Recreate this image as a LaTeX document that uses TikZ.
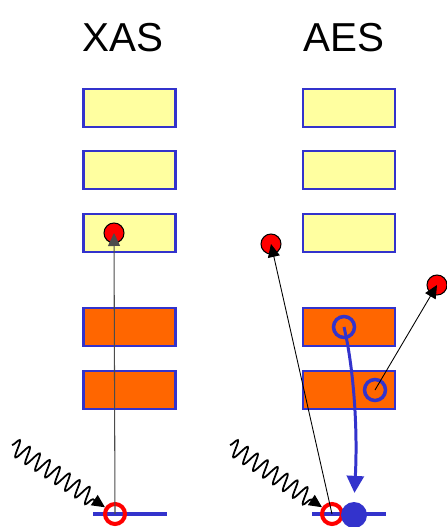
\documentclass[tikz,border=0pt]{standalone}
\usepackage{fontspec}
\setmainfont{Liberation Sans}
\usetikzlibrary{arrows.meta,decorations.pathmorphing}
\definecolor{boxblue}{RGB}{51,51,204}
\definecolor{shellyellow}{RGB}{255,255,160}
\definecolor{shellorange}{RGB}{255,102,0}
\tikzset{
  tip/.style={-{Triangle[length=0.26cm,width=0.24cm]}}
}
\begin{document}
\begin{tikzpicture}[x=0.02cm,y=-0.02cm]
      \useasboundingbox (0,0) rectangle (446,527);

      \node[anchor=base,font=\fontsize{23}{28}\selectfont] (xas) at (123,52) {XAS};
      \node[anchor=base,font=\fontsize{23}{28}\selectfont] (aes) at (344,52) {AES};

      \begin{scope}[every node/.style={rectangle,draw=boxblue,line width=1.5pt,
          minimum width=1.84cm,minimum height=0.76cm}]
        \node[fill=shellyellow] (xy1) at (129.5,108) {};
        \node[fill=shellyellow] (xy2) at (129.5,170) {};
        \node[fill=shellyellow] (xy3) at (129.5,233) {};
        \node[fill=shellorange] (xo1) at (129.5,327) {};
        \node[fill=shellorange] (xo2) at (129.5,390) {};
        \node[fill=shellyellow] (ay1) at (349,108) {};
        \node[fill=shellyellow] (ay2) at (349,170) {};
        \node[fill=shellyellow] (ay3) at (349,233) {};
        \node[fill=shellorange] (ao1) at (349,327) {};
        \node[fill=shellorange] (ao2) at (349,390) {};
      \end{scope}

      % levels at the bottom
      \coordinate (xl1) at (93,514);
      \coordinate (xl2) at (167,514);
      \coordinate (al1) at (312,514);
      \coordinate (al2) at (386,514);
      \draw[boxblue,line width=1.8pt] (xl1) -- (xl2);
      \draw[boxblue,line width=1.8pt] (al1) -- (al2);

      \begin{scope}[every node/.style={circle,inner sep=0pt}]
        \node[fill=red,draw=black,line width=0.6pt,minimum size=0.4cm] (xe) at (114,233) {};
        \node[fill=red,draw=black,line width=0.6pt,minimum size=0.4cm] (ae1) at (271,244) {};
        \node[fill=red,draw=black,line width=0.6pt,minimum size=0.4cm] (ae2) at (437,285) {};
        \node[draw=red,line width=2.3pt,minimum size=0.4cm] (xh) at (115,514) {};
        \node[draw=red,line width=2.3pt,minimum size=0.4cm] (ah) at (332,514) {};
        \node[fill=boxblue,minimum size=0.52cm] (af) at (354,515) {};
        \node[draw=boxblue,line width=2pt,minimum size=0.42cm] (ar1) at (344,327) {};
        \node[draw=boxblue,line width=2pt,minimum size=0.42cm] (ar2) at (375,390) {};
      \end{scope}

      % incoming photons
      \coordinate (xw) at (12,445);
      \coordinate (aw) at (230,445);
      \begin{scope}[line width=1pt,tip,
          decoration={snake,amplitude=0.17cm,segment length=0.24cm,post length=0.26cm}]
        \draw[decorate] (xw) -- (xh);
        \draw[decorate] (aw) -- (ah);
      \end{scope}

      % electrons
      \draw[black!70,line width=0.6pt,tip] (xh.center) -- (xe.center);
      \draw[black,line width=0.5pt,tip] (ah.center) -- (ae1.center);
      \draw[black,line width=0.5pt,tip] (ar2.center) -- (ae2.center);
      \draw[boxblue,line width=1.7pt,-{Triangle[length=0.34cm,width=0.34cm]},shorten >=5]
        (ar1.center) .. controls (353,365) and (358,425) .. (af.north);

    \end{tikzpicture}
\end{document}
